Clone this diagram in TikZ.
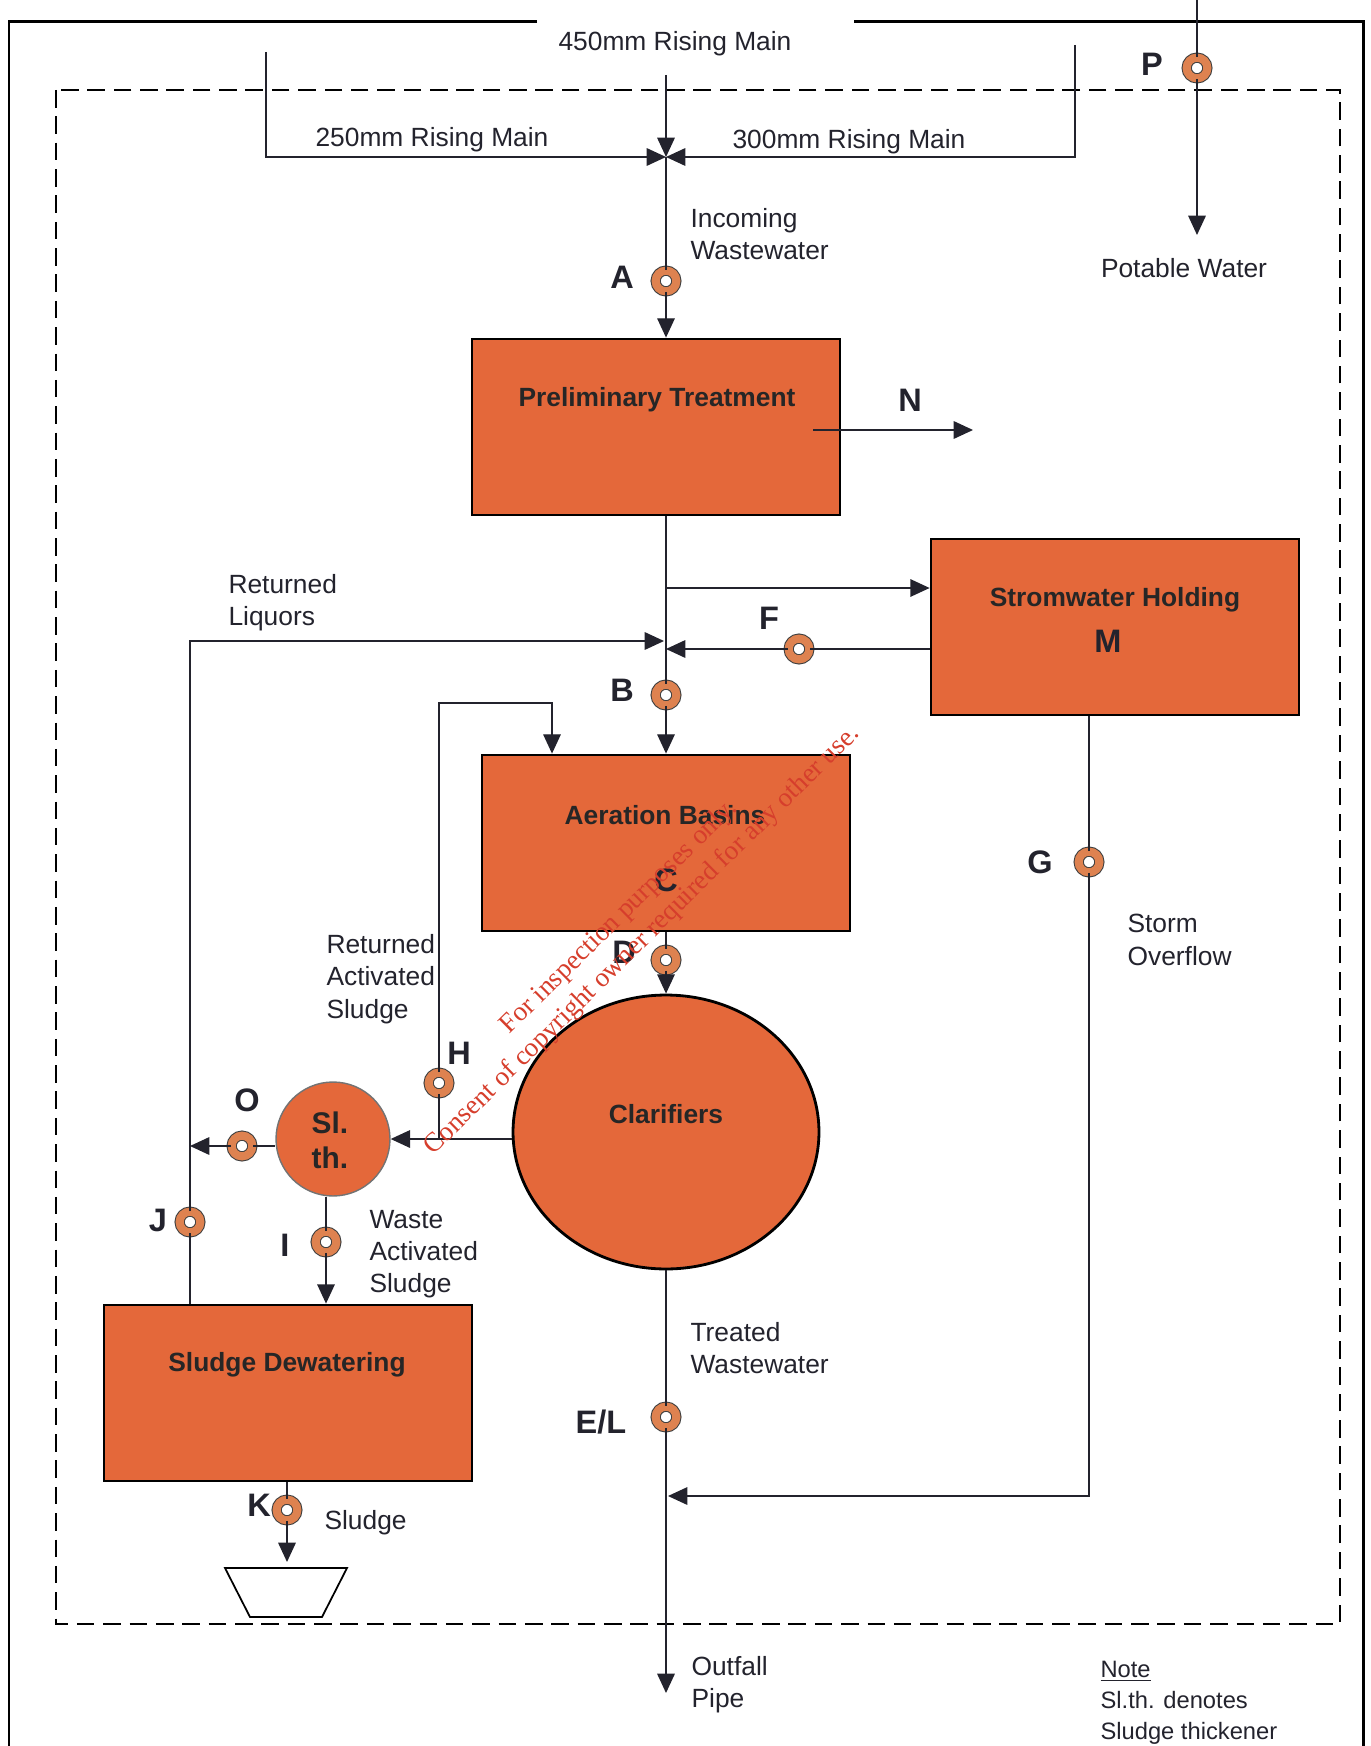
\documentclass[tikz,border=0pt]{standalone}
\usepackage{fontspec}
\setmainfont{Liberation Sans}
\newfontfamily\stampfont{Liberation Serif}
\usetikzlibrary{arrows.meta, shapes.geometric}

\definecolor{unitfill}{RGB}{228,104,58}
\definecolor{ringfill}{RGB}{222,130,80}
\definecolor{inkgrey}{RGB}{35,35,45}
\definecolor{stampred}{RGB}{214,62,44}

\begin{document}
\begin{tikzpicture}[
            x = 0.02cm, y = -0.02cm, % one unit = one pixel, y going down
            > = {Triangle[length=11pt, width=10pt]}, % arrow head style
            line width = 0.8pt,
            font = \fontsize{15}{18.4}\selectfont
        ]

        \tikzstyle{unitbox}=[
            draw = black,
            line width = 1.6pt,
            fill = unitfill,
            minimum width = 7.36cm,
            minimum height = 3.52cm,
            inner sep = 0pt
        ]
        \tikzstyle{unitname}=[font = \fontsize{15}{18}\selectfont\bfseries, text = black!85]
        \tikzstyle{sampletag}=[font = \fontsize{18.5}{20}\selectfont\bfseries, text = inkgrey]
        \tikzstyle{samplept}=[
            circle,
            draw = black!75,
            line width = 0.6pt,
            double = ringfill,
            double distance = 4.6pt,
            fill = white,
            minimum size = 11.8pt,
            inner sep = 0pt
        ]
        \tikzstyle{flowtext}=[align = left, anchor = west, text = inkgrey]
        \tikzstyle{pipe}=[draw = inkgrey, line width = 0.8pt]

        \useasboundingbox (0,0) rectangle (1370,1746);

        % frame and site boundary
        \draw[line width = 1.7pt] (537,22) -- (9,22) -- (9,1746);
        \draw[line width = 1.7pt] (854,22) -- (1363,22) -- (1363,1746);
        \draw[line width = 1pt, dash pattern = on 10pt off 5pt] (56,90) rectangle (1340,1624);

        % treatment units
        \node[unitbox] (pre) at (656,427) {};
        \node[unitbox] (storm) at (1115,627) {};
        \node[unitbox] (aer) at (666,843) {};
        \node[unitbox] (dew) at (288,1393) {};
        \node[ellipse, draw = black, line width = 1.6pt, fill = unitfill,
            minimum width = 6.12cm, minimum height = 5.48cm, inner sep = 0pt] (clar) at (666,1132) {};
        \node[circle, draw = black!55, line width = 0.8pt, fill = unitfill,
            minimum size = 2.28cm, inner sep = 0pt] (thick) at (333,1139) {};

        \node[unitname] (preT) at (657,400) {Preliminary Treatment};
        \node[unitname] (stormT) at (1115,600) {Stromwater Holding};
        \node[sampletag] (stormM) at (1108,641) {M};
        \node[unitname] (aerT) at (665,815) {Aeration Basins};
        \node[sampletag] (aerC) at (666,880) {C};
        \node[unitname] (clarT) at (666,1114) {Clarifiers};
        \node[unitname, font = \fontsize{17}{20}\selectfont\bfseries, align = left] (thickT) at (330,1140) {Sl.\\th.};
        \node[unitname] (dewT) at (287,1365) {Sludge Dewatering};

        % hopper
        \draw[line width = 1pt, fill = white] (225,1568) -- (347,1568) -- (322,1617) -- (250,1617) -- cycle;

        % sampling points
        \node[samplept] (P) at (1197,68) {};
        \node[samplept] (A) at (666,281) {};
        \node[samplept] (F) at (799,649) {};
        \node[samplept] (B) at (666,695) {};
        \node[samplept] (D) at (666,960) {};
        \node[samplept] (H) at (439,1083) {};
        \node[samplept] (O) at (242,1146) {};
        \node[samplept] (J) at (190,1222) {};
        \node[samplept] (I) at (326,1242) {};
        \node[samplept] (K) at (287,1510) {};
        \node[samplept] (G) at (1089,862) {};
        \node[samplept] (EL) at (666,1417) {};

        \node[sampletag] (tP) at (1152,64) {P};
        \node[sampletag] (tA) at (622,277) {A};
        \node[sampletag] (tF) at (769,618) {F};
        \node[sampletag] (tB) at (622,690) {B};
        \node[sampletag] (tD) at (624,952) {D};
        \node[sampletag] (tH) at (459,1053) {H};
        \node[sampletag] (tO) at (247,1100) {O};
        \node[sampletag] (tJ) at (158,1220) {J};
        \node[sampletag] (tI) at (285,1245) {I};
        \node[sampletag] (tK) at (259,1505) {K};
        \node[sampletag] (tG) at (1040,862) {G};
        \node[sampletag] (tEL) at (601,1422) {E/L};
        \node[sampletag] (tN) at (910,400) {N};

        % free ends and junctions
        \coordinate (m450) at (666,75);
        \coordinate (m250) at (266,52);
        \coordinate (m300) at (1075,45);
        \coordinate (inlet) at (666,157);
        \coordinate (split) at (666,588);
        \coordinate (retl) at (664,641);
        \coordinate (ras) at (552,703);
        \coordinate (hop) at (287,1562);
        \coordinate (ovf) at (668,1496);
        \coordinate (outfall) at (666,1693);
        \coordinate (nstart) at (813,430);
        \coordinate (nend) at (973,430);
        \coordinate (ptop) at (1197,0);
        \coordinate (pend) at (1197,235);

        % incoming flows
        \draw[pipe, ->] (m450) -- (inlet);
        \draw[pipe, ->] (m250) |- (inlet);
        \draw[pipe, ->] (m300) |- (inlet);
        \draw[pipe] (inlet) -- (A);
        \draw[pipe, ->] (A) -- (A |- pre.north);
        \draw[pipe, ->] (nstart) -- (nend);

        % to aeration and stormwater holding
        \draw[pipe] (pre.south -| A) -- (B);
        \draw[pipe, ->] (split) -- (split -| storm.west);
        \draw[pipe] (storm.west |- F) -- (F);
        \draw[pipe, ->] (F) -- (F -| B);
        \draw[pipe, ->] (B) -- (B |- aer.north);
        \draw[pipe, ->] (H) |- (ras) -- (ras |- aer.north);
        \draw[pipe] (aer.south) -- (D);
        \draw[pipe, ->] (D) -- (clar.north);

        % sludge lines
        \draw[pipe, ->] (thick.east -| clar.west) -- (thick.east);
        \draw[pipe] (H |- thick.east) -- (H);
        \draw[pipe] (thick.west |- O) -- (O);
        \draw[pipe, ->] (O) -- (O -| J);
        \draw[pipe] (dew.north -| J) -- (J);
        \draw[pipe, ->] (J) |- (retl);
        \draw[pipe] (thick.south -| I) -- (I);
        \draw[pipe, ->] (I) -- (I |- dew.north);
        \draw[pipe] (dew.south -| K) -- (K);
        \draw[pipe, ->] (K) -- (hop);

        % final effluent and storm overflow
        \draw[pipe] (clar.south) -- (EL);
        \draw[pipe, ->] (EL) -- (outfall);
        \draw[pipe] (G |- storm.south) -- (G);
        \draw[pipe, ->] (G) |- (ovf);

        % potable water
        \draw[pipe] (ptop) -- (P);
        \draw[pipe, ->] (P) -- (pend);

        % flow labels
        \node[text = inkgrey] (l450) at (675,44) {450mm Rising Main};
        \node[text = inkgrey] (l250) at (432,140) {250mm Rising Main};
        \node[text = inkgrey] (l300) at (849,142) {300mm Rising Main};
        \node[text = inkgrey] (lpot) at (1184,268) {Potable Water};
        \node[flowtext] (linc) at (684,234) {Incoming\\Wastewater};
        \node[flowtext] (lrl) at (222,603) {Returned\\Liquors};
        \node[flowtext] (lras) at (320,979) {Returned\\Activated\\Sludge};
        \node[flowtext] (lwas) at (363,1254) {Waste\\Activated\\Sludge};
        \node[flowtext] (lso) at (1121,940) {Storm\\Overflow};
        \node[flowtext] (ltw) at (684,1348) {Treated\\Wastewater};
        \node[flowtext] (lsl) at (318,1523) {Sludge};
        \node[flowtext] (lout) at (685,1685) {Outfall\\Pipe};
        \node[flowtext, font = \fontsize{13.5}{17.6}\selectfont] (note) at (1094,1703)
            {\underline{Note}\\Sl.th. denotes\\Sludge thickener};

        % stamp
        \node[text = stampred, align = center, rotate = 44.6,
            font = \stampfont\fontsize{15.5}{18.7}\selectfont] (stamp) at (631,929)
            {For inspection purposes only.\\Consent of copyright owner required for any other use.};
    \end{tikzpicture}
\end{document}
